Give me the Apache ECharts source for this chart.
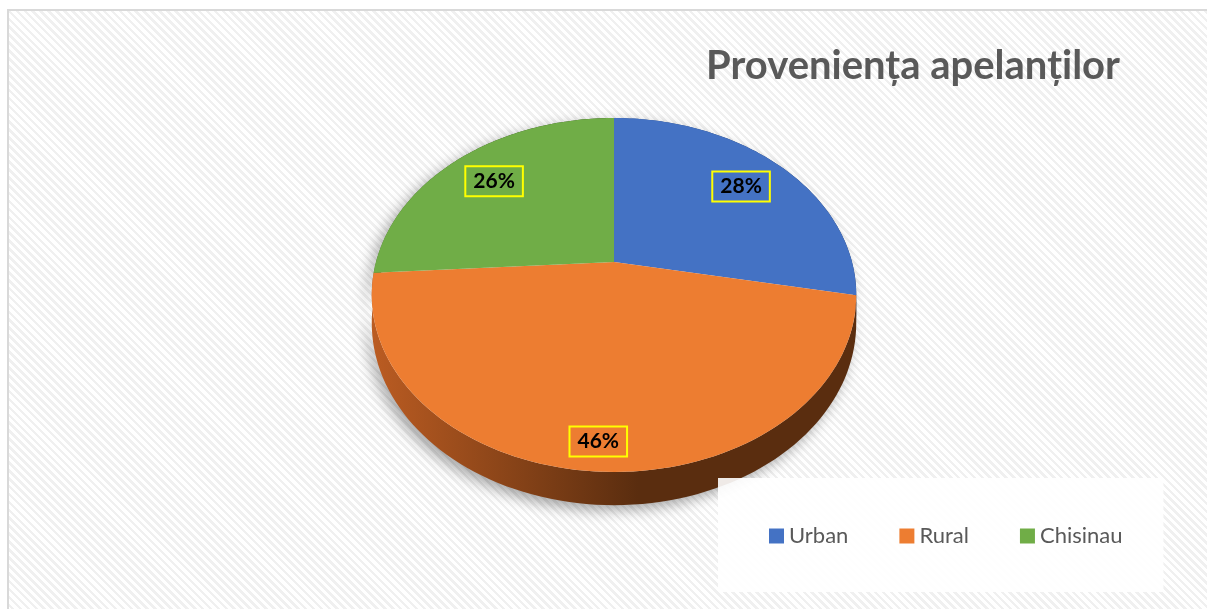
<!DOCTYPE html>
<html lang="ro">
<head>
  <meta charset="UTF-8">
  <title>Proveniența apelanților</title>
  <script src="https://cdn.jsdelivr.net/npm/echarts@6/dist/echarts.min.js"></script>
  <style>
    html, body { margin: 0; padding: 0; background: #fff; overflow: hidden; width: 1207px; height: 609px; }
    #frame {
      position: absolute; left: 7px; top: 9px; width: 1200px; height: 600px;
      border-left: 2px solid #d9d9d9; border-top: 2px solid #d9d9d9;
      background: repeating-linear-gradient(45deg, #ffffff 0px, #ffffff 3px, #f0f0f0 3px, #f0f0f0 5.6px);
    }
    #chart { position: absolute; left: 0; top: 0; width: 1207px; height: 609px; }
  </style>
</head>
<body>
  <div id="frame"></div>
  <div id="chart"></div>

  <script>
    // date
    const categories = ['Urban', 'Rural', 'Chisinau'];
    const values = [28, 46, 26];
    const labels = ['28%', '46%', '26%'];

    // culori (stil Excel)
    const colors = ['#4472C4', '#ED7D31', '#70AD47'];
    const sideColors = [
      ['#2f528f', '#1f3864'],
      ['#bb5c22', '#5a2d0f'],
      ['#4e7a31', '#2f4a1d']
    ];
    // cât de departe de centru stă eticheta (fracție din rază)
    const labelRadius = [0.755, 0.88, 0.758];

    const total = values.reduce((s, v) => s + v, 0);
    const startShare = values.map((v, i) => values.slice(0, i).reduce((s, x) => s + x, 0) / total);

    // proiecție în perspectivă a discului (u, v în [-1, 1])
    function makeProj(w, h) {
      const cx = w * 0.5087, cy = 262, R = 238, c = 0.1864, a = -122;
      return function (u, v) {
        const d = 1 + c * v;
        return [cx + R * u / d, (a * v + cy) / d, d];
      };
    }

    function renderSlice(idx) {
      return function (params, api) {
        const proj = makeProj(api.getWidth(), api.getHeight());
        const a0 = startShare[idx] * Math.PI * 2;
        const a1 = a0 + api.value(0) / total * Math.PI * 2;
        const steps = 90;
        const top = [proj(0, 0).slice(0, 2)];
        const rimTop = [], rimBot = [];
        for (let k = 0; k <= steps; k++) {
          const t = a0 + (a1 - a0) * k / steps;
          const p = proj(Math.sin(t), Math.cos(t));
          top.push([p[0], p[1]]);
          rimTop.push([p[0], p[1]]);
          rimBot.push([p[0], p[1] + 27 / p[2]]);
        }
        const side = rimTop.concat(rimBot.reverse());
        const mid = (a0 + a1) / 2;
        const r = labelRadius[idx];
        const lp = proj(r * Math.sin(mid), r * Math.cos(mid));

        return {
          type: 'group',
          children: [
            {
              type: 'polygon',
              z2: 0,
              shape: { points: side },
              style: {
                fill: new echarts.graphic.LinearGradient(0, 0, 1, 0, [
                  { offset: 0, color: sideColors[idx][0] },
                  { offset: 0.55, color: sideColors[idx][1] },
                  { offset: 1, color: sideColors[idx][1] }
                ]),
                shadowBlur: 14,
                shadowColor: 'rgba(0,0,0,0.35)',
                shadowOffsetX: -5,
                shadowOffsetY: 5
              }
            },
            {
              type: 'polygon',
              z2: 1,
              shape: { points: top },
              style: { fill: colors[idx] }
            },
            {
              type: 'text',
              z2: 2,
              x: lp[0],
              y: lp[1],
              style: {
                text: labels[idx],
                fill: '#000',
                font: 'bold 21px Lato',
                align: 'center',
                verticalAlign: 'middle',
                borderColor: '#ffff00',
                borderWidth: 2,
                padding: [5, 8, 4, 8]
              }
            }
          ]
        };
      };
    }

    const chart = echarts.init(document.getElementById('chart'));

    const option = {
      backgroundColor: 'transparent',
      animation: false,
      title: {
        text: 'Proveniența apelanților',
        right: 82,
        top: 41,
        textStyle: { fontFamily: 'Lato', fontWeight: 'bold', fontSize: 40, color: '#595959' }
      },
      legend: {
        data: categories,
        left: 718,
        top: 478,
        icon: 'rect',
        itemWidth: 15,
        itemHeight: 15,
        itemGap: 51,
        padding: [47, 41, 45, 51],
        backgroundColor: 'rgba(255,255,255,0.9)',
        textStyle: { fontFamily: 'Lato', fontSize: 22, color: '#595959' }
      },
      series: categories.map((name, i) => ({
        type: 'custom',
        name: name,
        coordinateSystem: 'none',
        itemStyle: { color: colors[i] },
        data: [values[i]],
        renderItem: renderSlice(i)
      }))
    };

    chart.setOption(option);
  </script>
</body>
</html>
